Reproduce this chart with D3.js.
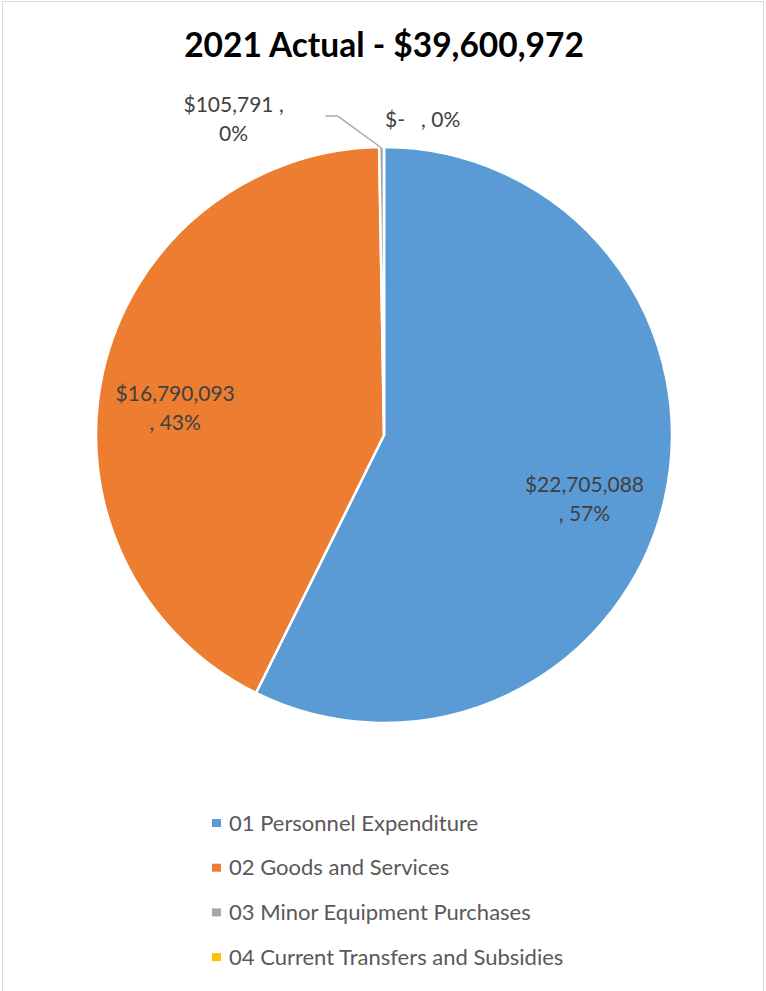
<!DOCTYPE html>
<html lang="en">
<head>
  <meta charset="UTF-8">
  <title>2021 Actual</title>
  <script src="https://d3js.org/d3.v7.min.js"></script>
  <style>
    body { margin: 0; background: #fff; }
    svg { display: block; }
  </style>
</head>
<body>
  <div id="chart"></div>
  <script>
    // data
    const categories = [
      '01 Personnel Expenditure',
      '02 Goods and Services',
      '03 Minor Equipment Purchases',
      '04 Current Transfers and Subsidies'
    ];
    const amounts = [22705088, 16790093, 105791, 0];
    const colors = ['#5b9bd5', '#ed7d31', '#a5a5a5', '#ffc000'];
    const chartTitle = '2021 Actual - $39,600,972';

    const width = 766, height = 991;
    const cx = 384, cy = 435, R = 288;

    const svg = d3.select('#chart').append('svg')
      .attr('width', width).attr('height', height);

    // chart frame
    svg.append('rect')
      .attr('x', 2.5).attr('y', 1.5)
      .attr('width', 761).attr('height', 995)
      .attr('fill', '#fff').attr('stroke', '#d9d9d9').attr('stroke-width', 1);

    svg.append('text')
      .attr('x', 384).attr('y', 57)
      .attr('text-anchor', 'middle')
      .attr('font-family', 'Lato, sans-serif')
      .attr('font-weight', 'bold')
      .attr('font-size', 33.5)
      .attr('fill', '#000')
      .text(chartTitle);

    const data = categories.map((c, i) => ({ name: c, value: amounts[i], color: colors[i] }));
    const total = d3.sum(amounts);

    // whole percentages that add up to 100 (largest remainder), like the spreadsheet shows
    const raw = amounts.map(v => v / total * 100);
    const pcts = raw.map(Math.floor);
    let left = 100 - d3.sum(pcts);
    d3.range(raw.length)
      .sort((a, b) => (raw[b] - pcts[b]) - (raw[a] - pcts[a]))
      .forEach(i => { if (left > 0) { pcts[i] += 1; left -= 1; } });

    const pie = d3.pie().sort(null).value(d => d.value);
    const arcs = pie(data);
    const arc = d3.arc().innerRadius(0).outerRadius(R);

    const g = svg.append('g').attr('transform', `translate(${cx},${cy})`);

    g.selectAll('path')
      .data(arcs.filter(d => d.value > 0))
      .enter()
      .append('path')
      .attr('d', arc)
      .attr('fill', d => d.data.color)
      .attr('stroke', '#fff')
      .attr('stroke-width', 2.5)
      .attr('stroke-linejoin', 'round');

    const fmt = d3.format(',');
    const pct = d => pcts[d.index] + '%';
    const labelFont = 'Lato, sans-serif';
    const labelSize = 21;

    // inside labels for the two big slices
    const labelArc = d3.arc().innerRadius(R * 0.69).outerRadius(R * 0.69);
    const insideShift = [[7, 19], [-15, 17]];
    arcs.slice(0, 2).forEach((d, i) => {
      const [lx, ly] = labelArc.centroid(d);
      const t = g.append('text')
        .attr('text-anchor', 'middle')
        .attr('font-family', labelFont)
        .attr('font-size', labelSize)
        .attr('fill', '#404040');
      t.append('tspan')
        .attr('x', lx + insideShift[i][0]).attr('y', ly + insideShift[i][1] - 7)
        .text('$' + fmt(d.value));
      t.append('tspan')
        .attr('x', lx + insideShift[i][0]).attr('y', ly + insideShift[i][1] + 22)
        .text(', ' + pct(d));
    });

    // outside label for minor equipment with leader line
    const minor = arcs[2];
    const edge = d3.arc().innerRadius(R).outerRadius(R);
    const [ex, ey] = edge.centroid(minor);
    g.append('polyline')
      .attr('points', [[ex, ey + 1], [ex - 44, ey - 31], [ex - 56, ey - 31]].map(p => p.join(',')).join(' '))
      .attr('fill', 'none')
      .attr('stroke', '#a6a6a6')
      .attr('stroke-width', 1.5);
    const mt = g.append('text')
      .attr('text-anchor', 'middle')
      .attr('font-family', labelFont)
      .attr('font-size', labelSize)
      .attr('fill', '#404040');
    mt.append('tspan').attr('x', ex - 148).attr('y', ey - 35).text('$' + fmt(minor.value) + ' ,');
    mt.append('tspan').attr('x', ex - 148).attr('y', ey - 6).text(pct(minor));

    // outside label for the zero slice
    const zero = arcs[3];
    const [zx, zy] = edge.centroid(zero);
    g.append('text')
      .attr('x', zx + 1).attr('y', zy - 20)
      .attr('font-family', labelFont)
      .attr('font-size', labelSize)
      .attr('fill', '#404040')
      .text('$-\u00a0\u00a0\u00a0, ' + pct(zero));

    // legend
    const legend = svg.append('g').attr('transform', 'translate(212,823)');
    const row = legend.selectAll('g')
      .data(data)
      .enter()
      .append('g')
      .attr('transform', (d, i) => `translate(0,${i * 44.7})`);
    row.append('rect')
      .attr('x', 0).attr('y', -4)
      .attr('width', 9).attr('height', 8)
      .attr('fill', d => d.color);
    row.append('text')
      .attr('x', 17).attr('y', 7.5)
      .attr('font-family', labelFont)
      .attr('font-size', 22)
      .attr('fill', '#595959')
      .text(d => d.name);
  </script>
</body>
</html>
